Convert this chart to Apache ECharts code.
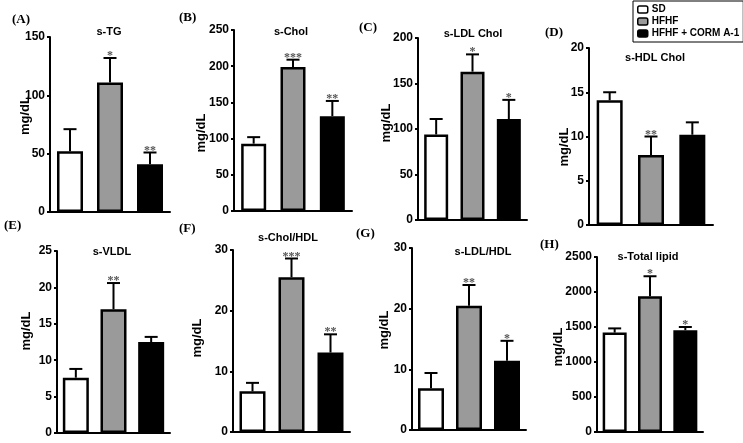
<!DOCTYPE html>
<html>
<head>
<meta charset="utf-8">
<script src="https://cdn.jsdelivr.net/npm/echarts@6/dist/echarts.min.js"></script>
<style>
html,body{margin:0;padding:0;background:#fff;}
#chart{width:743px;height:443px;}
</style>
</head>
<body>
<div id="chart"></div>
<script>
// ---------- data ----------
const groups = ['SD', 'HFHF', 'HFHF + CORM A-1'];
const panelTitles = ['s-TG', 's-Chol', 's-LDL Chol', 's-HDL Chol', 's-VLDL', 's-Chol/HDL', 's-LDL/HDL', 's-Total lipid'];
const panelLetters = ['(A)', '(B)', '(C)', '(D)', '(E)', '(F)', '(G)', '(H)'];
const yUnit = 'mg/dL';
const yMax = [150, 250, 200, 20, 25, 30, 30, 2500];
const yStep = [50, 50, 50, 5, 5, 10, 10, 500];
const sdMeans = [52, 93, 94, 14.1, 7.6, 6.7, 6.9, 1420];
const hfhfMeans = [111, 199, 163, 7.9, 17, 25.5, 20.5, 1940];
const cormMeans = [41, 131, 111, 10.2, 12.5, 13.1, 11.4, 1455];
const sdErr = [19, 9, 17, 0.9, 1.2, 1.4, 2.5, 60];
const hfhfErr = [21, 10, 19, 2.1, 3.6, 3.1, 3.4, 285];
const cormErr = [10, 21, 21, 1.4, 0.7, 3.0, 3.3, 45];
const sdSig = ['', '', '', '', '', '', '', ''];
const hfhfSig = ['*', '***', '*', '**', '**', '***', '**', '*'];
const cormSig = ['**', '**', '*', '', '', '**', '*', '*'];

// ---------- layout (positions / sizes) ----------
const gridBox = [[50,37,170,212],[234,30,352,211],[418,38,527,220],[589,48,713,225],
                 [57,251,170,433],[233,250,350,432],[412,248,526,430],[597,257,703,432]];
const barW = [26,25,24,26,26,26,26,24];
const titlePos = [[109,32],[291,32],[473,34],[655,58],[112,252],[288,238],[483,252],[648,257]];
const letterPos = [[12,20],[179,18],[359,28],[545,33],[4,226],[179,229],[356,234],[540,245]];
const nameCenterX = [24.5,201,386,564,26,197,384,558];
const nameShift = [9,-12.5,6,-10.5,11,3,9,-2.5];
const colors = ['#ffffff', '#9a9a9a', '#000000'];

const means = [sdMeans, hfhfMeans, cormMeans];
const errs = [sdErr, hfhfErr, cormErr];
const sigs = [sdSig, hfhfSig, cormSig];

const grid = [], xAxis = [], yAxis = [], series = [], title = [];
const sansFont = '"Liberation Sans", Arial, sans-serif';

for (let p = 0; p < 8; p++) {
  const [l, t, r, b] = gridBox[p];
  grid.push({left: l, top: t, width: r - l, height: b - t, containLabel: false});
  xAxis.push({
    type: 'category', gridIndex: p, data: groups,
    axisLine: {show: true, lineStyle: {color: '#000', width: 2}},
    axisTick: {show: false}, axisLabel: {show: false}, splitLine: {show: false}
  });
  const sh = nameShift[p];
  yAxis.push({
    type: 'value', gridIndex: p, min: 0, max: yMax[p], interval: yStep[p],
    name: yUnit, nameLocation: 'middle', nameRotate: 90,
    nameGap: l - nameCenterX[p] - 7, nameMoveOverlap: false,
    nameTextStyle: {fontFamily: sansFont, fontWeight: 'bold', fontSize: 13, color: '#000',
      padding: sh >= 0 ? [0, 0, 0, 2 * sh] : [0, -2 * sh, 0, 0]},
    axisLine: {show: true, lineStyle: {color: '#000', width: 2}},
    axisTick: {show: true, length: 3, lineStyle: {color: '#000', width: 2}},
    axisLabel: {fontFamily: sansFont, fontWeight: 'bold', fontSize: 12, color: '#000', margin: 5,
      formatter: function (v) { return String(v); }},
    splitLine: {show: false}
  });
  for (let g = 0; g < 3; g++) {
    const d = groups.map((_, k) => k === g ? means[g][p] : '-');
    series.push({
      type: 'bar', name: groups[g], xAxisIndex: p, yAxisIndex: p,
      data: d, barWidth: barW[p], barGap: '-100%',
      itemStyle: {color: colors[g], borderColor: '#000', borderWidth: 2.5},
      z: 2
    });
  }
  const errData = groups.map((_, k) => [k, means[k][p], errs[k][p]]);
  const pi = p;
  series.push({
    type: 'custom', name: 'err' + p, xAxisIndex: p, yAxisIndex: p,
    data: errData, z: 3, silent: true,
    renderItem: function (params, api) {
      const k = api.value(0);
      const base = api.coord([k, api.value(1)]);
      const top = api.coord([k, api.value(1) + api.value(2)]);
      const s = sigs[params.dataIndex][pi];
      const children = [
        {type: 'line', shape: {x1: base[0], y1: base[1], x2: top[0], y2: top[1]},
         style: {stroke: '#000', lineWidth: 2}},
        {type: 'line', shape: {x1: top[0] - 6.5, y1: top[1], x2: top[0] + 6.5, y2: top[1]},
         style: {stroke: '#000', lineWidth: 2}}
      ];
      if (s) {
        children.push({type: 'text', x: top[0], y: top[1] + 4,
          style: {text: s, fill: '#555', font: 'bold 12px "Liberation Serif", serif',
                  textAlign: 'center', textVerticalAlign: 'bottom'}});
      }
      return {type: 'group', children: children};
    }
  });
  title.push({
    text: panelTitles[p], left: titlePos[p][0], top: titlePos[p][1],
    textAlign: 'center', textVerticalAlign: 'middle', padding: 0,
    textStyle: {fontFamily: sansFont, fontWeight: 'bold', fontSize: 11, color: '#000'}
  });
  title.push({
    text: panelLetters[p], left: letterPos[p][0], top: letterPos[p][1],
    textAlign: 'left', textVerticalAlign: 'middle', padding: 0,
    textStyle: {fontFamily: '"Liberation Serif", "Times New Roman", serif', fontWeight: 'bold', fontSize: 13, color: '#000'}
  });
}

const chart = echarts.init(document.getElementById('chart'), null, {renderer: 'canvas'});
chart.setOption({
  animation: false,
  backgroundColor: '#fff',
  title: title,
  legend: {
    data: groups, orient: 'vertical', left: 633, top: 1,
    itemWidth: 10, itemHeight: 7, itemGap: 1,
    padding: [3, 4, 3, 4], borderColor: '#000', borderWidth: 1, backgroundColor: '#fff',
    itemStyle: {borderWidth: 1.5, borderColor: '#000'},
    textStyle: {fontFamily: sansFont, fontWeight: 'bold', fontSize: 10, color: '#000', lineHeight: 11, padding: [0,0,0,-1]},
    selectedMode: false
  },
  grid: grid, xAxis: xAxis, yAxis: yAxis, series: series
});
</script>
</body>
</html>
